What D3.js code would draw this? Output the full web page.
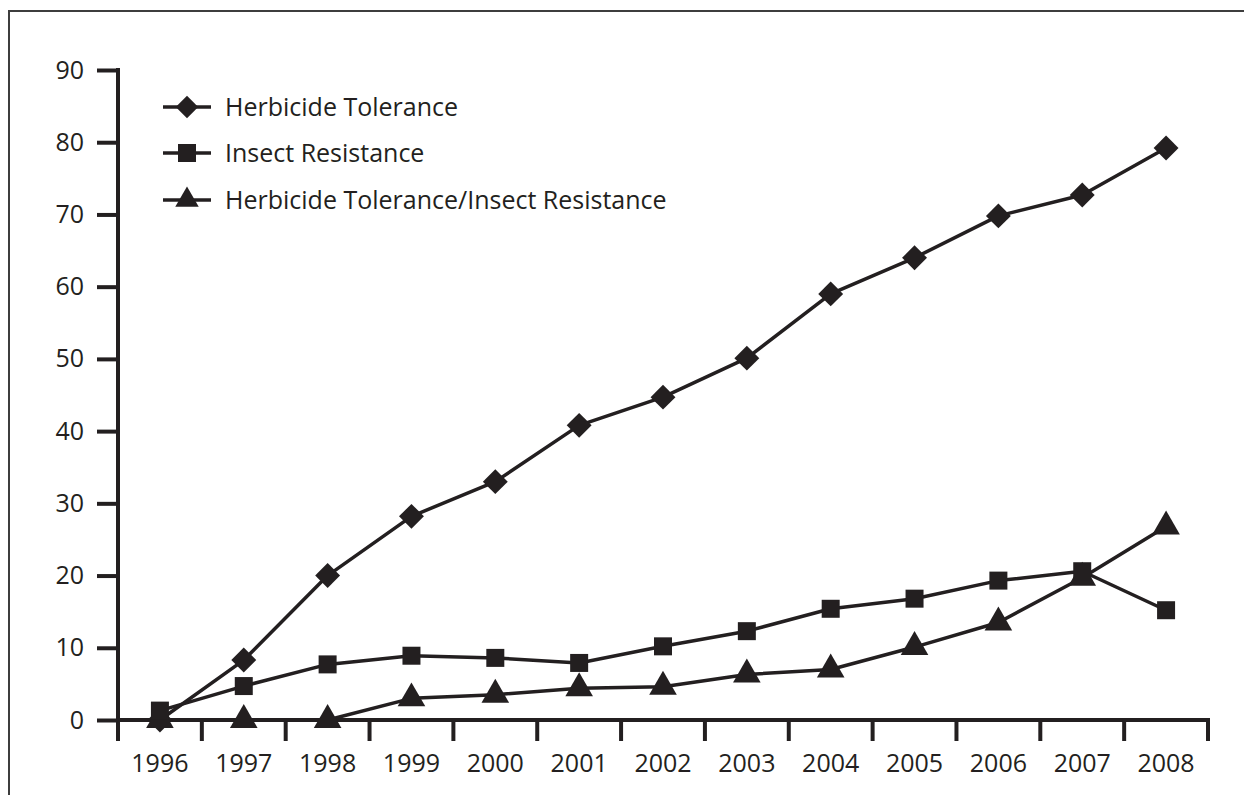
<!DOCTYPE html>
<html>
<head>
<meta charset="utf-8">
<script src="https://cdn.jsdelivr.net/npm/d3@7"></script>
<style>
  html, body { margin: 0; padding: 0; background: #fff; }
  svg { display: block; }
  text { font-family: "Open Sans", Lato, sans-serif; fill: #231f20; }
</style>
</head>
<body>
<svg id="chart" width="1244" height="795"></svg>
<script>
const years = ["1996","1997","1998","1999","2000","2001","2002","2003","2004","2005","2006","2007","2008"];
const herbicideTolerance = [0, 8.3, 20, 28.2, 33, 40.8, 44.7, 50.1, 59, 64, 69.8, 72.7, 79.2];
const insectResistance = [1.3, 4.7, 7.7, 8.9, 8.6, 7.9, 10.2, 12.3, 15.4, 16.8, 19.3, 20.6, 15.2];
const htIr = [0, 0, 0, 3.0, 3.5, 4.4, 4.6, 6.3, 7.0, 10.1, 13.5, 19.7, 26.8];
const yTicks = [0,10,20,30,40,50,60,70,80,90];
const seriesNames = ["Herbicide Tolerance","Insect Resistance","Herbicide Tolerance/Insect Resistance"];

const ink = "#231f20";
const font = "'Open Sans', Lato, sans-serif";
const svg = d3.select("#chart");

// frame
svg.append("path").attr("d","M9,795V11H1244").attr("fill","none")
  .attr("stroke","#3d3d3d").attr("stroke-width",2);

const x = d3.scaleBand().domain(years).range([118, 1208]).padding(0);
const y = d3.scaleLinear().domain([0, 90]).range([720, 70]);
const cx = d => x(d) + x.bandwidth()/2;

// y axis
const yAxis = svg.append("g").attr("transform","translate(118,0)")
  .call(d3.axisLeft(y).tickValues(yTicks).tickSize(21).tickPadding(13).tickSizeOuter(0));
yAxis.select(".domain").remove();
yAxis.selectAll(".tick line").attr("stroke",ink).attr("stroke-width",4);
yAxis.selectAll(".tick text").attr("font-size",25).attr("fill",ink).attr("font-family",font);
svg.append("line").attr("x1",118).attr("x2",118).attr("y1",y(90)-2).attr("y2",741)
  .attr("stroke",ink).attr("stroke-width",4);

// x axis
const xAxis = svg.append("g").attr("transform","translate(0,720)")
  .call(d3.axisBottom(x).tickSize(0).tickPadding(34).tickSizeOuter(0));
xAxis.select(".domain").remove();
xAxis.selectAll(".tick text").attr("font-size",25).attr("fill",ink).attr("font-family",font);
svg.append("line").attr("x1",116).attr("x2",1210).attr("y1",720).attr("y2",720)
  .attr("stroke",ink).attr("stroke-width",4);
const bounds = years.slice(1).map(d => x(d)).concat([x.range()[1]]);
svg.append("g").selectAll("line").data(bounds).join("line")
  .attr("x1",d=>d).attr("x2",d=>d).attr("y1",720).attr("y2",741)
  .attr("stroke",ink).attr("stroke-width",4);

// series
const diamond = d3.symbol().type(d3.symbolSquare).size(310);
const square = d3.symbol().type(d3.symbolSquare).size(324);
const triangle = d3.symbol().type(d3.symbolTriangle).size(330);
const series = [
  {name: seriesNames[0], values: herbicideTolerance, sym: diamond, rot: 45},
  {name: seriesNames[2], values: htIr, sym: triangle, rot: 0},
  {name: seriesNames[1], values: insectResistance, sym: square, rot: 0}
];
const line = d3.line().x((d,i)=>cx(years[i])).y(d=>y(d));
series.forEach(s => {
  svg.append("path").attr("d", line(s.values)).attr("fill","none")
    .attr("stroke",ink).attr("stroke-width",3.5).attr("stroke-linejoin","round");
});
series.forEach(s => {
  svg.append("g").selectAll("path").data(s.values).join("path")
    .attr("d", s.sym())
    .attr("transform",(d,i)=>`translate(${cx(years[i])},${y(d)}) rotate(${s.rot})`)
    .attr("fill",ink);
});

// legend
const legend = [
  {name: seriesNames[0], sym: diamond, rot: 45, scale: 0.9},
  {name: seriesNames[1], sym: square, rot: 0, scale: 1},
  {name: seriesNames[2], sym: triangle, rot: 0, scale: 0.85}
];
const lg = svg.append("g");
const rowY = [107, 153, 200];
legend.forEach((l,i) => {
  const g = lg.append("g").attr("transform",`translate(0,${rowY[i]})`);
  g.append("line").attr("x1",163).attr("x2",211).attr("y1",0).attr("y2",0)
    .attr("stroke",ink).attr("stroke-width",3.5);
  g.append("path").attr("d", l.sym()).attr("fill",ink)
    .attr("transform",`translate(187,0) rotate(${l.rot}) scale(${l.scale})`);
  g.append("text").attr("x",225).attr("y",0).attr("dy","0.35em")
    .attr("font-size",25).attr("font-family",font).text(l.name);
});
</script>
</body>
</html>
